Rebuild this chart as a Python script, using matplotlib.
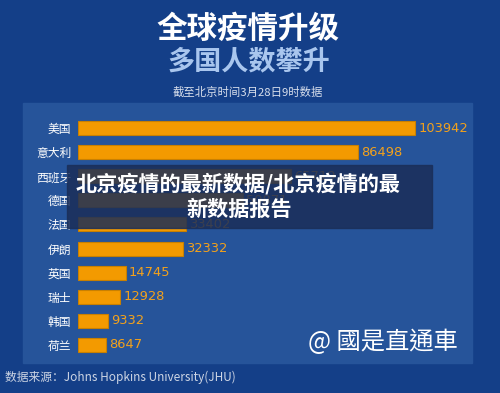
import matplotlib.pyplot as plt
from matplotlib.patches import Rectangle

plt.rcParams['font.family'] = ['Noto Sans CJK SC', 'DejaVu Sans']

countries = ['美国', '意大利', '西班牙', '德国', '法国', '伊朗', '英国', '瑞士', '韩国', '荷兰']
cases = [103942, 86498, 65719, 50871, 33402, 32332, 14745, 12928, 9332, 8647]

W, H = 500, 393
fig = plt.figure(figsize=(W / 100, H / 100), dpi=100)
fig.patch.set_facecolor('#143f88')

# background layer in pixel coordinates
bg = fig.add_axes([0, 0, 1, 1])
bg.set_xlim(0, W)
bg.set_ylim(H, 0)
bg.axis('off')
bg.add_patch(Rectangle((23, 103), 449, 260, color='#26549a', zorder=0))

bg.text(248, 29, '全球疫情升级', ha='center', va='center', fontsize=22,
        fontweight='heavy', color='white')
bg.text(249, 61, '多国人数攀升', ha='center', va='center', fontsize=19.5,
        fontweight='bold', color='#a9c6ee')
bg.text(248, 92, '截至北京时间3月28日9时数据', ha='center', va='center',
        fontsize=8.2, color='#d8dfec')
bg.text(5, 377, '数据来源：Johns Hopkins University(JHU)', ha='left', va='center',
        fontsize=8.5, color='#cdd5e4')
bg.text(458, 342, '@ 國是直通車', ha='right', va='center', fontsize=17.5,
        color='white', family=['Noto Sans CJK TC', 'DejaVu Sans'])

# bar chart
x0, x1 = 78, 472
y_top, y_bot = 116, 357
ax = fig.add_axes([x0 / W, 1 - y_bot / H, (x1 - x0) / W, (y_bot - y_top) / H])
ax.patch.set_alpha(0)
xmax = cases[0] * (x1 - x0) / 337
ax.set_xlim(0, xmax)
pos = list(range(len(countries)))
ax.barh(pos, cases, height=0.58, color='#f39a00', edgecolor='#c98000', linewidth=0.8)
ax.set_ylim(len(countries) - 0.5, -0.5)
ax.set_yticks(pos)
ax.set_yticklabels(countries, fontsize=8.5, color='white')
ax.tick_params(axis='y', length=0, pad=5)
ax.set_xticks([])
for s in ax.spines.values():
    s.set_visible(False)
for p, v in zip(pos, cases):
    ax.text(v + xmax * 0.008, p, str(v), va='center', ha='left', fontsize=9.4,
            color='#f2a11c', family='DejaVu Sans')

# overlay banner
top = fig.add_axes([0, 0, 1, 1])
top.set_xlim(0, W)
top.set_ylim(H, 0)
top.axis('off')
top.add_patch(Rectangle((67, 165), 365, 63, color='#1b2e58', alpha=0.85))
top.text(238, 184, '北京疫情的最新数据/北京疫情的最', ha='center', va='center',
         fontsize=15.2, fontweight='bold', color='white')
top.text(239, 209, '新数据报告', ha='center', va='center',
         fontsize=15.2, fontweight='bold', color='white')

fig.savefig('out.png', dpi=100, facecolor=fig.get_facecolor())
